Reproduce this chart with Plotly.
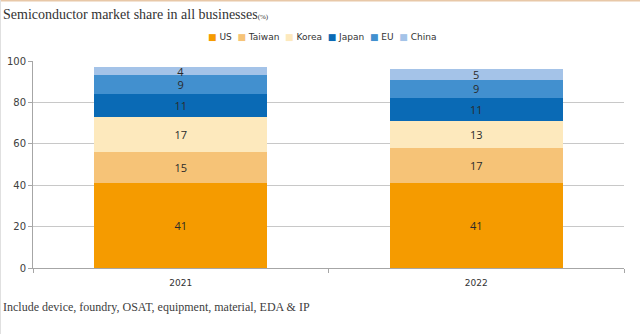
import plotly.graph_objects as go

years = ["2021", "2022"]
series_names = ["US", "Taiwan", "Korea", "Japan", "EU", "China"]
us = [41, 41]
taiwan = [15, 17]
korea = [17, 13]
japan = [11, 11]
eu = [9, 9]
china = [4, 5]
colors = ["#F59B00", "#F6C377", "#FDE9BD", "#0A6AB5", "#4290CF", "#A4C3E8"]
y_ticks = [0, 20, 40, 60, 80, 100]

values = [us, taiwan, korea, japan, eu, china]

W, H = 640, 334
L, R, T, B = 33, 16, 61, 66
PW, PH = W - L - R, H - T - B


def px_x(x):
    return (x - L) / PW


def px_y(y):
    return (H - B - y) / PH


fig = go.Figure()
for name, vals, col in zip(series_names, values, colors):
    fig.add_trace(go.Bar(
        x=years, y=vals, name=name, marker=dict(color=col, line=dict(width=0)),
        text=[str(v) for v in vals], textposition="inside", insidetextanchor="middle",
        textangle=0,
        textfont=dict(family="Open Sans, DejaVu Sans", size=11, color="#2a2a2a"),
        constraintext="none", showlegend=False,
    ))

legend_text = "&nbsp;&nbsp;".join(
    f"<span style='color:{c}'>■</span>&nbsp;{n}" for n, c in zip(series_names, colors)
)

fig.update_layout(
    barmode="stack",
    bargap=0.415,
    width=W, height=H,
    margin=dict(l=L, r=R, t=T, b=B, autoexpand=False),
    paper_bgcolor="white", plot_bgcolor="white",
    showlegend=False,
    uniformtext=dict(minsize=8, mode="show"),
    xaxis=dict(showline=True, linecolor="#A6A6A6", linewidth=1, ticks="outside",
               tickson="boundaries", ticklen=4, tickcolor="#A6A6A6", automargin=False,
               ticklabelstandoff=6,
               tickfont=dict(family="DejaVu Sans", size=9, color="#333333")),
    yaxis=dict(range=[0, 100], tickvals=y_ticks, showgrid=True, gridcolor="#C8C8C8",
               showline=True, linecolor="#A6A6A6", linewidth=1, ticks="outside",
               ticklen=4, tickcolor="#A6A6A6", zeroline=False, automargin=False,
               tickfont=dict(family="DejaVu Sans", size=10, color="#404040")),
    annotations=[
        dict(text="Semiconductor market share in all businesses<span style='font-size:7px'>(%)</span>",
             xref="paper", yref="paper", x=px_x(1), y=px_y(14), xanchor="left", yanchor="middle",
             showarrow=False, font=dict(family="Liberation Serif", size=14, color="#333333")),
        dict(text=legend_text,
             xref="paper", yref="paper", x=px_x(322), y=px_y(37), xanchor="center", yanchor="middle",
             showarrow=False, font=dict(family="DejaVu Sans", size=9, color="#333333")),
        dict(text="Include device, foundry, OSAT, equipment, material, EDA &amp; IP",
             xref="paper", yref="paper", x=px_x(1), y=px_y(307), xanchor="left", yanchor="middle",
             showarrow=False, font=dict(family="Liberation Serif", size=12, color="#404040")),
    ],
    shapes=[
        dict(type="line", xref="paper", yref="paper", x0=px_x(0), x1=px_x(W), y0=px_y(0.5), y1=px_y(0.5),
             line=dict(color="#E8C8A8", width=2)),
        dict(type="line", xref="paper", yref="paper", x0=px_x(0.5), x1=px_x(0.5), y0=px_y(H), y1=px_y(0),
             line=dict(color="#E0E0E0", width=1)),
    ],
)

fig.write_html("out.html")
